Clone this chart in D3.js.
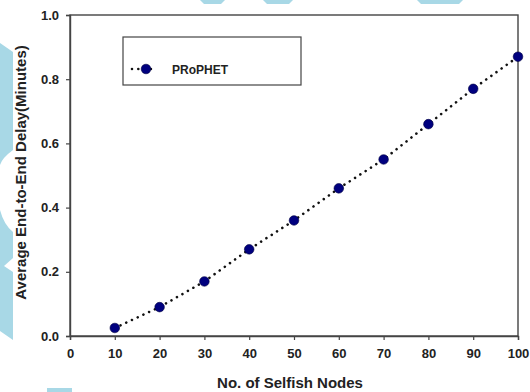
<!DOCTYPE html>
<html>
<head>
<meta charset="utf-8">
<script src="https://cdn.jsdelivr.net/npm/d3@7"></script>
<style>
  html, body { margin: 0; padding: 0; background: #fff; }
  svg { display: block; font-family: "Liberation Sans", Arial, sans-serif; }
</style>
</head>
<body>
<svg id="chart" width="530" height="392"></svg>
<script>
const selfishNodes = [10, 20, 30, 40, 50, 60, 70, 80, 90, 100];
const prophetDelay = [0.025, 0.09, 0.17, 0.27, 0.36, 0.46, 0.55, 0.66, 0.77, 0.87];
const xTicks = [0, 10, 20, 30, 40, 50, 60, 70, 80, 90, 100];
const yTicks = [0.0, 0.2, 0.4, 0.6, 0.8, 1.0];
const seriesName = "PRoPHET";

const svg = d3.select("#chart");
const width = 530, height = 392;
const margin = { top: 15, right: 12, bottom: 56, left: 70 };

const wash = "#a8d8e6";
const ink = "#222";
const axisColor = "#444";
const markerColor = "#00007f";

// faint watermark shapes behind the figure
const bg = svg.append("g");
bg.append("path")
  .attr("d", "M0,43 L13,52 L13,150 Q2,158 0,165 Z M0,210 Q4,225 13,232 L13,258 L4,266 L13,272 L13,340 L0,331 Z")
  .attr("fill", wash);
[[200, 225], [263, 293], [417, 463]].forEach(([a, b]) => {
  bg.append("path")
    .attr("d", `M${a},0 L${b},0 L${b - 4},4 L${a + 4},4 Z`)
    .attr("fill", wash);
});
bg.append("rect").attr("x", 47).attr("y", 388).attr("width", 25).attr("height", 4).attr("fill", wash);

const x = d3.scaleLinear().domain([0, 100]).range([margin.left, width - margin.right]);
const y = d3.scaleLinear().domain([0, 1]).range([height - margin.bottom, margin.top]);

// frame
svg.append("rect")
  .attr("x", x(0)).attr("y", y(1))
  .attr("width", x(100) - x(0)).attr("height", y(0) - y(1))
  .attr("fill", "none").attr("stroke", axisColor).attr("stroke-width", 1.4);

const xAxis = svg.append("g")
  .attr("transform", `translate(0,${y(0)})`)
  .call(d3.axisBottom(x).tickValues(xTicks).tickSize(4).tickPadding(9).tickFormat(d3.format("d")));

const yAxis = svg.append("g")
  .attr("transform", `translate(${x(0)},0)`)
  .call(d3.axisLeft(y).tickValues(yTicks).tickSize(4).tickPadding(7).tickFormat(d3.format(".1f")));

[xAxis, yAxis].forEach(g => {
  g.select(".domain").attr("stroke", axisColor).attr("stroke-width", 1.4);
  g.selectAll(".tick line").attr("stroke", axisColor).attr("stroke-width", 1.2);
  g.selectAll(".tick text")
    .attr("fill", ink)
    .attr("font-size", 13)
    .attr("font-weight", "bold")
    .attr("font-family", "Liberation Sans, Arial, sans-serif");
});

// series
const pts = selfishNodes.map((n, i) => ({ n, v: prophetDelay[i] }));

svg.append("path")
  .datum(pts)
  .attr("fill", "none")
  .attr("stroke", "#111")
  .attr("stroke-width", 2.6)
  .attr("stroke-linecap", "round")
  .attr("stroke-dasharray", "0.01 6.3")
  .attr("d", d3.line().x(d => x(d.n)).y(d => y(d.v)));

svg.selectAll("circle.pt")
  .data(pts)
  .enter()
  .append("circle")
  .attr("class", "pt")
  .attr("cx", d => x(d.n))
  .attr("cy", d => y(d.v))
  .attr("r", 4.8)
  .attr("fill", markerColor)
  .attr("stroke", "#000040")
  .attr("stroke-width", 0.6);

// legend
const legend = svg.append("g").attr("transform", "translate(123,37)");
legend.append("rect")
  .attr("width", 178).attr("height", 48)
  .attr("fill", "#fff").attr("stroke", axisColor).attr("stroke-width", 1.2);
legend.append("line")
  .attr("x1", 9).attr("x2", 34).attr("y1", 32).attr("y2", 32)
  .attr("stroke", "#111").attr("stroke-width", 2.6)
  .attr("stroke-linecap", "round").attr("stroke-dasharray", "0.01 6.3");
legend.append("circle")
  .attr("cx", 23).attr("cy", 32).attr("r", 4.8)
  .attr("fill", markerColor).attr("stroke", "#000040").attr("stroke-width", 0.6);
legend.append("text")
  .attr("x", 49).attr("y", 36.5)
  .attr("fill", ink)
  .attr("font-size", 12)
  .attr("font-weight", "bold")
  .text(seriesName);

// axis titles
svg.append("text")
  .attr("x", (x(0) + x(100)) / 2 - 4)
  .attr("y", 388)
  .attr("text-anchor", "middle")
  .attr("fill", ink)
  .attr("font-size", 15)
  .attr("font-weight", "bold")
  .text("No. of Selfish Nodes");

svg.append("text")
  .attr("transform", "rotate(-90)")
  .attr("x", -(y(0) + y(1)) / 2 + 3)
  .attr("y", 26)
  .attr("text-anchor", "middle")
  .attr("fill", ink)
  .attr("font-size", 15)
  .attr("font-weight", "bold")
  .text("Average End-to-End Delay(Minutes)");
</script>
</body>
</html>
